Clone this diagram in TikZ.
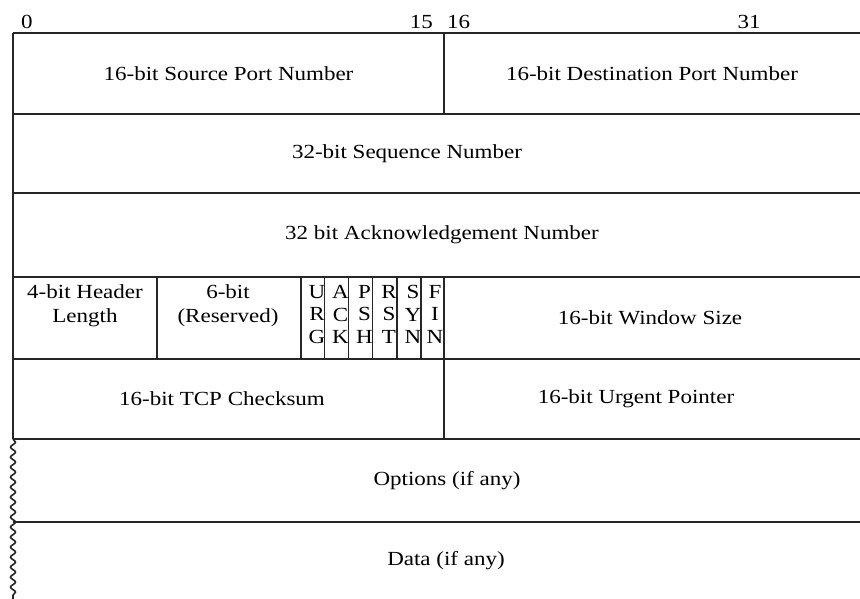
\documentclass[tikz,border=0pt]{standalone}
\usepackage{fontspec}
\setmainfont[FakeStretch=1.15]{Liberation Serif}
\usetikzlibrary{decorations.pathmorphing}
\begin{document}
\begin{tikzpicture}[x=1pt,y=-1pt,
  grid/.style={line width=1.6pt, black!85},
  lbl/.style={font=\fontsize{20}{23.5}\selectfont, inner sep=0pt, align=center},
  flagtxt/.style={font=\fontsize{20}{22.7}\selectfont, inner sep=0pt, align=center, anchor=north},
  bitnum/.style={font=\fontsize{20}{20}\selectfont, inner sep=0pt}]
\useasboundingbox[fill=white] (0,0) rectangle (860,599);
% horizontal rules
\foreach \yy in {33,114,193,277,359,439,522}
  \draw[grid] (13,\yy) -- (860,\yy);
% left edge
\draw[grid] (13,33) -- (13,439);
\draw[grid, decorate, decoration={snake, segment length=10pt, amplitude=2.5pt}] (13,439) -- (13,599);
% vertical dividers
\draw[grid] (444,33) -- (444,114);
\draw[grid] (444,277) -- (444,439);
\foreach \xx in {157,300.7,324.3,348.3,372.3,396.7,420.7}
  \draw[grid] (\xx,277) -- (\xx,359);
% bit numbers
\node[bitnum, anchor=base west] (b0) at (21,29) {0};
\node[bitnum, anchor=base east] (b15) at (433,29) {15};
\node[bitnum, anchor=base west] (b16) at (447,29) {16};
\node[bitnum, anchor=base] (b31) at (749,29) {31};
% fields
\node[lbl] (src) at (228.5,73.5) {16-bit Source Port Number};
\node[lbl] (dst) at (652,73.5) {16-bit Destination Port Number};
\node[lbl] (seq) at (407,153.5) {32-bit Sequence Number};
\node[lbl] (ack) at (442,235) {32 bit Acknowledgement Number};
\node[lbl, anchor=north] (hlen) at (85,284.5) {4-bit Header\\Length};
\node[lbl, anchor=north] (res) at (228,284.5) {6-bit\\(Reserved)};
\node[flagtxt] (urg) at (317,285) {U\\R\\G};
\node[flagtxt] (ackf) at (340.5,285) {A\\C\\K};
\node[flagtxt] (psh) at (364.5,285) {P\\S\\H};
\node[flagtxt] (rst) at (389,285) {R\\S\\T};
\node[flagtxt] (syn) at (413,285) {S\\Y\\N};
\node[flagtxt] (fin) at (435,285) {F\\I\\N};
\node[lbl] (win) at (650,318) {16-bit Window Size};
\node[lbl] (chk) at (222,399) {16-bit TCP Checksum};
\node[lbl] (urp) at (636,399) {16-bit Urgent Pointer};
\node[lbl] (opt) at (447,480.5) {Options (if any)};
\node[lbl] (data) at (446,561) {Data (if any)};
\end{tikzpicture}
\end{document}
